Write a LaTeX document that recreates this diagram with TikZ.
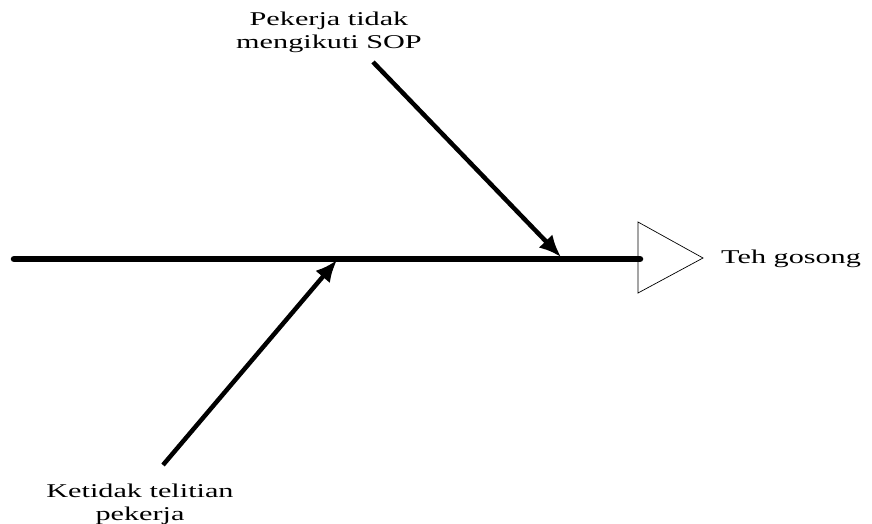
\documentclass[tikz,border=0pt]{standalone}
\usepackage{fontspec}
\setmainfont{Liberation Serif}
\newfontfamily\widefont[FakeStretch=1.55]{Liberation Serif}
\usetikzlibrary{arrows.meta}
\tikzset{
  lbl/.style={font=\widefont\fontsize{19.5}{23}\selectfont, align=center, inner sep=0pt},
  spine/.style={line width=6.5pt, line cap=round},
  cause/.style={line width=4.5pt, -{Latex[length=22pt,width=19pt]}},
  head/.style={draw, line width=0.7pt, fill=white}
}
\begin{document}
\begin{tikzpicture}[x=1pt,y=-1pt]
\useasboundingbox (0,0) rectangle (872,524);
\coordinate (s0) at (14,259);
\coordinate (s1) at (640,259);
\draw[spine] (s0) -- (s1);
\coordinate (t1) at (638,222);
\coordinate (t2) at (703,258);
\coordinate (t3) at (638,293);
\draw[line width=0.7pt] (t1) -- (t2) -- (t3) -- cycle;
\node[lbl, anchor=west] (eff) at (721,259) {Teh gosong};
\node[lbl] (c1) at (329,32) {Pekerja tidak\\mengikuti SOP};
\node[lbl] (c2) at (140,504) {Ketidak telitian\\pekerja};
\coordinate (a1s) at (373,62);
\coordinate (a1e) at (561,257);
\coordinate (a2s) at (163,465);
\coordinate (a2e) at (337,260);
\draw[cause] (a1s) -- (a1e);
\draw[cause] (a2s) -- (a2e);
\end{tikzpicture}
\end{document}
